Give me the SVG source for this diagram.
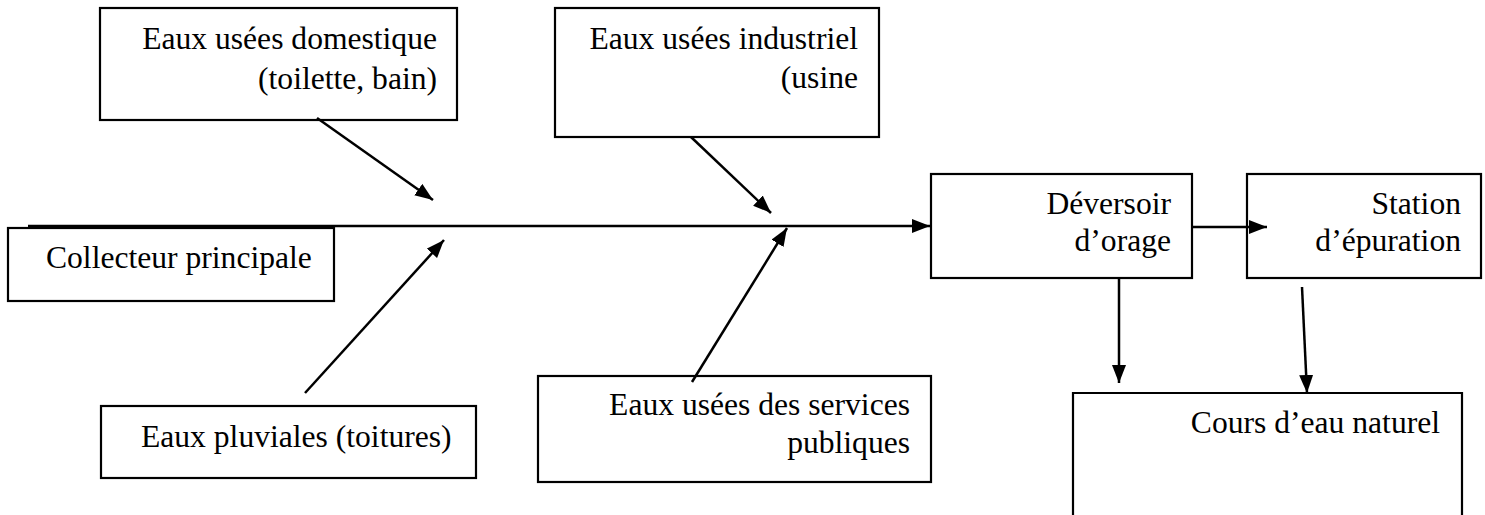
<svg xmlns="http://www.w3.org/2000/svg" width="1485" height="515" viewBox="0 0 1485 515">
  <style>
    .box { fill: #ffffff; stroke: #000000; stroke-width: 2.2; }
    .lbl { font-family: 'Liberation Serif', 'Times New Roman', serif; font-size: 31.6px; fill: #000000; }
    .end { text-anchor: end; }
    .wire { stroke: #000000; stroke-width: 2.5; fill: none; marker-end: url(#arrow); }
  </style>
  <defs>
    <marker id="arrow" markerUnits="userSpaceOnUse" markerWidth="19" markerHeight="15" refX="18" refY="7" orient="auto">
      <path d="M0,0 L18,7 L0,14 z" fill="#000000"/>
    </marker>
  </defs>
  <rect width="1485" height="515" fill="#ffffff"/>

  <g id="domestique">
    <rect class="box" x="100" y="8" width="357" height="112"/>
    <text class="lbl end" x="437" y="49">Eaux usées domestique</text>
    <text class="lbl end" x="437" y="89">(toilette, bain)</text>
  </g>

  <g id="industriel">
    <rect class="box" x="555" y="8" width="324" height="129"/>
    <text class="lbl end" x="858" y="49">Eaux usées industriel</text>
    <text class="lbl end" x="858" y="88">(usine</text>
  </g>

  <g id="collecteur">
    <rect class="box" x="8" y="228" width="326" height="73"/>
    <text class="lbl" x="46" y="268">Collecteur principale</text>
  </g>

  <g id="deversoir">
    <rect class="box" x="931" y="174" width="261" height="104"/>
    <text class="lbl end" x="1171" y="214">Déversoir</text>
    <text class="lbl end" x="1171" y="251">d’orage</text>
  </g>

  <g id="station">
    <rect class="box" x="1247" y="174" width="234" height="104"/>
    <text class="lbl end" x="1461" y="214">Station</text>
    <text class="lbl end" x="1461" y="251">d’épuration</text>
  </g>

  <g id="pluviales">
    <rect class="box" x="101" y="406" width="375" height="72"/>
    <text class="lbl" x="141" y="447">Eaux pluviales (toitures)</text>
  </g>

  <g id="services">
    <rect class="box" x="538" y="376" width="393" height="106"/>
    <text class="lbl end" x="910" y="415">Eaux usées des services</text>
    <text class="lbl end" x="910" y="453">publiques</text>
  </g>

  <g id="cours-eau">
    <!-- open at the bottom: the box runs past the page edge -->
    <path class="box" d="M1073,520 L1073,393 L1462,393 L1462,520"/>
    <text class="lbl end" x="1440" y="433">Cours d’eau naturel</text>
  </g>

  <g id="connectors">
    <line class="wire" x1="28" y1="226" x2="930" y2="226"/>
    <line class="wire" x1="317" y1="118" x2="433" y2="200"/>
    <line class="wire" x1="691" y1="137" x2="771" y2="213"/>
    <line class="wire" x1="305" y1="393" x2="444" y2="240"/>
    <line class="wire" x1="692" y1="382" x2="787" y2="228"/>
    <line class="wire" x1="1192" y1="227" x2="1267" y2="227"/>
    <line class="wire" x1="1119" y1="278" x2="1119" y2="383"/>
    <line class="wire" x1="1302" y1="287" x2="1307" y2="393"/>
  </g>
</svg>
